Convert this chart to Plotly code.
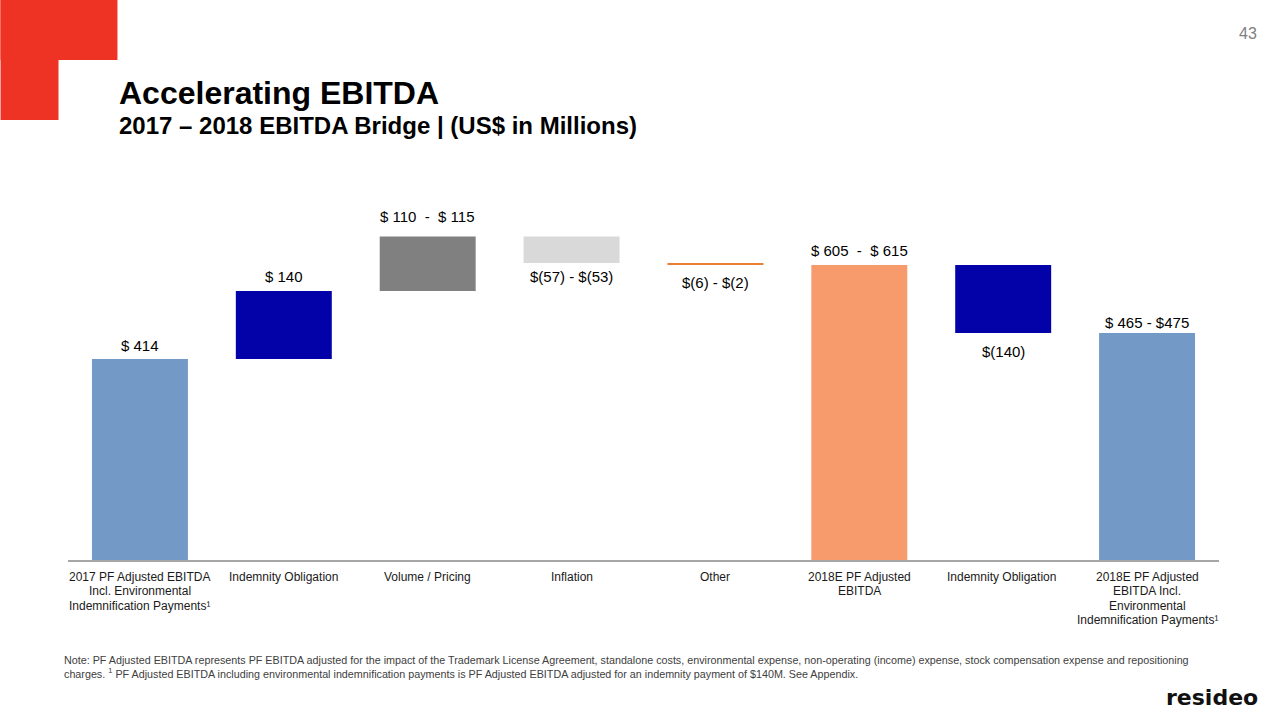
import plotly.graph_objects as go

categories = [
    "2017 PF Adjusted EBITDA<br>Incl. Environmental<br>Indemnification Payments¹",
    "Indemnity Obligation",
    "Volume / Pricing",
    "Inflation",
    "Other",
    "2018E PF Adjusted<br>EBITDA",
    "Indemnity Obligation ",
    "2018E PF Adjusted<br>EBITDA Incl.<br>Environmental<br>Indemnification Payments¹",
]
# midpoint values (US$ M); "total" bars are computed from the running sum
values = [414, 140, 112.5, -55, -4, None, -140, None]
measures = ["absolute", "relative", "relative", "relative", "relative", "total", "relative", "total"]
labels = ["$ 414", "$ 140", "$ 110  -  $ 115", "$(57) - $(53)", "$(6) - $(2)",
          "$ 605  -  $ 615", "$(140)", "$ 465 - $475"]
colors = ["#7399C6", "#0202A8", "#808080", "#D9D9D9", "#ED7D31", "#F79B6C", "#0202A8", "#7399C6"]
label_gap = [3, 4, 9, 3, 7, 4, 8, 0]

# build bases / heights from running sum
bases, heights, running = [], [], 0.0
for v, m in zip(values, measures):
    if m == "absolute":
        bases.append(0); heights.append(v); running = v
    elif m == "total":
        bases.append(0); heights.append(running)
    else:
        bases.append(running); heights.append(v); running += v

fig = go.Figure(go.Bar(
    x=categories, y=heights, base=bases,
    marker=dict(color=colors, line=dict(width=0)),
    hoverinfo="skip",
))

ann = []
for c, b, h, m, lab, g in zip(categories, bases, heights, measures, labels, label_gap):
    if h >= 0:
        ann.append(dict(x=c, y=b + h, xref="x", yref="y", text=lab, showarrow=False,
                        yanchor="bottom", yshift=g, font=dict(size=15, color="#000000")))
    else:
        ann.append(dict(x=c, y=b + h, xref="x", yref="y", text=lab, showarrow=False,
                        yanchor="top", yshift=-g, font=dict(size=15, color="#000000")))

# category labels, one line at a time for tighter line spacing
for c in categories:
    for i, line in enumerate(c.split("<br>")):
        ann.append(dict(x=c, y=0, xref="x", yref="y", text=line, showarrow=False,
                        yanchor="middle", yshift=-(16.5 + 14.5 * i),
                        font=dict(size=12, color="#1A1A1A")))

ann += [
    dict(x=117, y=720 - 93, xref="paper", yref="paper", text="<b>Accelerating EBITDA</b>",
         showarrow=False, xanchor="left", yanchor="middle", font=dict(size=32, color="#000000")),
    dict(x=117, y=720 - 125, xref="paper", yref="paper",
         text="<b>2017 – 2018 EBITDA Bridge | (US$ in Millions)</b>",
         showarrow=False, xanchor="left", yanchor="middle", font=dict(size=24, color="#000000")),
    dict(x=1260, y=720 - 33, xref="paper", yref="paper", text="43", showarrow=False,
         xanchor="right", yanchor="middle", font=dict(size=16, color="#7F7F7F")),
    dict(x=61, y=720 - 667, xref="paper", yref="paper",
         text="Note: PF Adjusted EBITDA represents PF EBITDA adjusted for the impact of the Trademark License Agreement, standalone costs, environmental expense, non-operating (income) expense, stock compensation expense and repositioning<br>"
              "charges. <sup>1</sup> PF Adjusted EBITDA including environmental indemnification payments is PF Adjusted EBITDA adjusted for an indemnity payment of $140M. See Appendix.",
         showarrow=False, xanchor="left", yanchor="middle", align="left",
         font=dict(size=10.75, color="#404040")),
    dict(x=1261, y=720 - 697, xref="paper", yref="paper", text="<b>resideo</b>", showarrow=False,
         xanchor="right", yanchor="middle", font=dict(size=22, color="#111111", family="DejaVu Sans")),
]

# convert paper-pixel annotations into paper fractions
L, R, T, B = 67.5, 60.5, 180, 160
pw, ph = 1280 - L - R, 720 - T - B
for a in ann:
    if a.get("xref") == "paper":
        a["x"] = (a["x"] - L) / pw
        a["y"] = (a["y"] - B) / ph

fig.update_layout(
    width=1280, height=720,
    margin=dict(l=L, r=R, t=T, b=B, pad=0),
    paper_bgcolor="white", plot_bgcolor="white",
    font=dict(family="Liberation Sans, Arial, sans-serif", color="#000000"),
    showlegend=False,
    bargap=0.333,
    xaxis=dict(type="category", range=[-0.5, 7.5], showgrid=False, showline=True,
               linecolor="#A6A6A6", linewidth=1.5, ticks="", showticklabels=False,
               zeroline=False),
    yaxis=dict(range=[0, 380 / 0.4855], visible=False, showgrid=False, zeroline=False),
    annotations=ann,
    shapes=[
        dict(type="rect", xref="paper", yref="paper",
             x0=(0 - L) / pw, x1=(117 - L) / pw, y0=(720 - 60 - B) / ph, y1=(720 - B) / ph,
             fillcolor="#EE3224", line=dict(width=0), layer="above"),
        dict(type="rect", xref="paper", yref="paper",
             x0=(0 - L) / pw, x1=(58 - L) / pw, y0=(720 - 120 - B) / ph, y1=(720 - B) / ph,
             fillcolor="#EE3224", line=dict(width=0), layer="above"),
    ],
)

fig.write_html("out.html", config={"displayModeBar": False},
               post_script="document.body.style.margin='0';document.body.style.overflow='hidden';")
